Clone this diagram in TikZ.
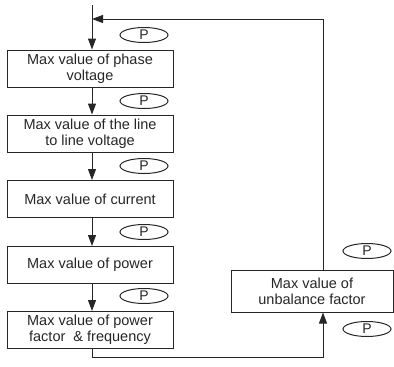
\documentclass[tikz,border=0pt]{standalone}
\usepackage{fontspec}
\setmainfont{Liberation Sans}
\usetikzlibrary{arrows.meta,shapes.geometric}
\begin{document}
\begin{tikzpicture}[x=1pt,y=-1pt,
  box/.style={draw=black!85,line width=1pt,minimum width=166pt,minimum height=37pt,inner sep=0pt,align=center,font=\fontsize{14.5}{16}\selectfont,text=black!85},
  rbox/.style={box,minimum width=162pt,minimum height=42pt},
  pkey/.style={draw=black!85,line width=1pt,ellipse,minimum width=48pt,minimum height=15pt,inner sep=0pt,font=\fontsize{14}{14}\selectfont,text=black!85},
  flow/.style={draw=black!85,line width=1pt,-{Triangle[length=11pt,width=8pt]}}]
\useasboundingbox (0,0) rectangle (394,367);
\coordinate (sp) at (92,0);
\coordinate (start) at (92,5);
\node[box] (b1) at (90,68.5) {Max value of phase\\voltage};
\node[box] (b2) at (90,133.5) {Max value of the line\\to line voltage};
\node[box] (b3) at (90,199) {Max value of current};
\node[box] (b4) at (90,265) {Max value of power};
\node[box] (b5) at (90,330) {Max value of power\\factor \ \& frequency};
\node[rbox] (r) at (312,291) {Max value of\\unbalance factor};
\node[pkey] (p1) at (144,35) {P};
\node[pkey] (p2) at (144,101) {P};
\node[pkey] (p3) at (144,166) {P};
\node[pkey] (p4) at (144,232) {P};
\node[pkey] (p5) at (144,296) {P};
\node[pkey] (p6) at (367,251) {P};
\node[pkey] (p7) at (367,329) {P};
\coordinate (rx) at (323,0);
\coordinate (top) at (323,19);
\coordinate (bot) at (323,357);
\coordinate (join) at (92,19);
\draw[flow] (start) -- (b1.north -| sp);
\draw[flow] (b1.south -| sp) -- (b2.north -| sp);
\draw[flow] (b2.south -| sp) -- (b3.north -| sp);
\draw[flow] (b3.south -| sp) -- (b4.north -| sp);
\draw[flow] (b4.south -| sp) -- (b5.north -| sp);
\draw[flow] (b5.south -| sp) |- (bot) -- (r.south -| rx);
\draw[flow] (r.north -| rx) -- (top) -- (join);
\end{tikzpicture}
\end{document}
